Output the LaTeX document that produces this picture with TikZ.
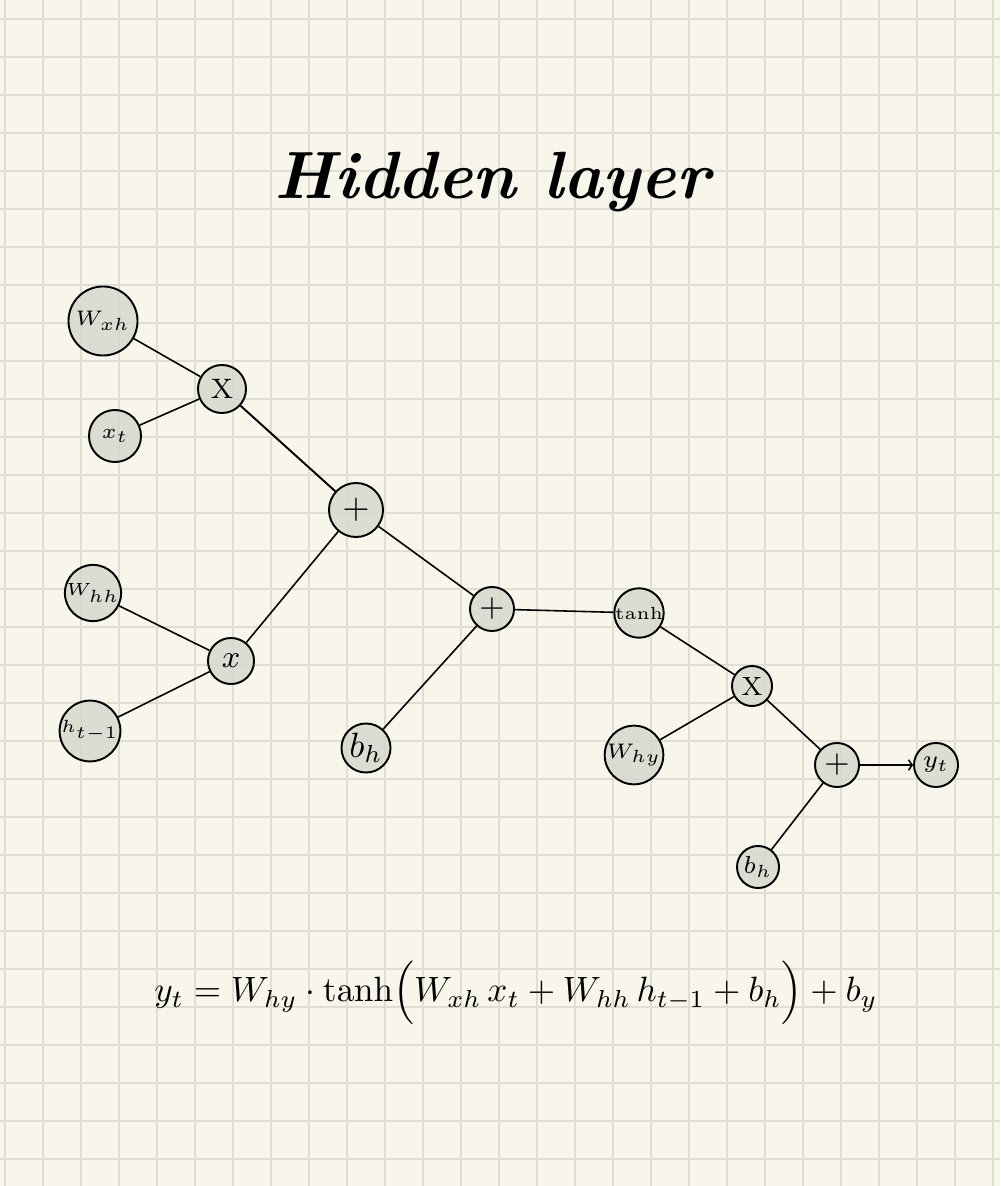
\documentclass[tikz,border=0pt]{standalone}
\usepackage{amsmath}
\usetikzlibrary{arrows.meta}
\definecolor{paper}{RGB}{248,246,234}
\definecolor{gridline}{RGB}{224,222,210}
\definecolor{bubble}{RGB}{216,216,206}
\tikzset{
  bub/.style={circle, draw=black, line width=0.55pt, fill=bubble, fill opacity=0.85,
              text opacity=1, inner sep=0pt, minimum size=#1},
  link/.style={line width=0.45pt, black},
}
\newcommand{\fs}[1]{\fontsize{#1}{#1}\selectfont}
\begin{document}
\begin{tikzpicture}[x=0.01cm, y=-0.01cm]
  % paper and grid
  \fill[paper] (0,0) rectangle (1000,1186);
  \useasboundingbox (0,0) rectangle (1000,1186);
  \foreach \gx in {0,...,26} {
    \draw[gridline, line width=0.55pt] ({4.7+38*\gx},0) -- ({4.7+38*\gx},1186);
  }
  \foreach \gy in {0,...,31} {
    \draw[gridline, line width=0.55pt] (0,{19+38*\gy}) -- (1000,{19+38*\gy});
  }

  % title
  \node (title) at (492,182) {\fs{19}\bfseries\itshape Hidden layer};

  % hidden layer bubbles
  \node[bub=0.69cm] (wxh) at (103,321) {\fs{6.5}$W_{xh}$};
  \node[bub=0.48cm] (m1)  at (222,389) {\fs{8}X};
  \node[bub=0.52cm] (xt)  at (115,436) {\fs{6.5}$x_t$};
  \node[bub=0.54cm] (p1)  at (356,510) {\fs{10}$+$};
  \node[bub=0.52cm] (whh) at (93,593)  {\fs{5.5}$W_{hh}$};
  \node[bub=0.46cm] (m2)  at (231,661) {\fs{9}$x$};
  \node[bub=0.46cm] (htm) at (90,731)  {\fs{4.6}$h_{t-1}$};
  \node[bub=0.44cm] (p2)  at (492,609) {\fs{9}$+$};
  \node[bub=0.49cm] (bh)  at (366,748) {\fs{10}$b_h$};

  % output bubbles
  \node[bub=0.46cm] (th)  at (639,613) {\fs{5}tanh};
  \node[bub=0.40cm] (m3)  at (752,686) {\fs{7.5}X};
  \node[bub=0.50cm] (why) at (634,755) {\fs{6}$W_{hy}$};
  \node[bub=0.44cm] (p3)  at (837,765) {\fs{9}$+$};
  \node[bub=0.44cm] (yt)  at (936,765) {\fs{7}$y_t$};
  \node[bub=0.42cm] (by)  at (758,867) {\fs{7}$b_h$};

  % connectors
  \draw[link] (wxh) -- (m1);
  \draw[link] (xt) -- (m1);
  \draw[link, line width=0.55pt] (m1) -- (p1);
  \draw[link] (whh) -- (m2);
  \draw[link] (htm) -- (m2);
  \draw[link] (m2) -- (p1);
  \draw[link] (p1) -- (p2);
  \draw[link] (bh) -- (p2);
  \draw[link] (p2) -- (th);
  \draw[link] (th) -- (m3);
  \draw[link] (why) -- (m3);
  \draw[link] (m3) -- (p3);
  \draw[link] (by) -- (p3);
  \draw[link, -{Straight Barb[length=1pt,width=3pt]}] (p3) -- (yt);

  % formula
  \node (eq) at (516,993) {\fs{10.4}$y_t = W_{hy}\cdot\tanh\Bigl(W_{xh}\,x_t + W_{hh}\,h_{t-1} + b_h\Bigr) + b_y$};
\end{tikzpicture}
\end{document}
